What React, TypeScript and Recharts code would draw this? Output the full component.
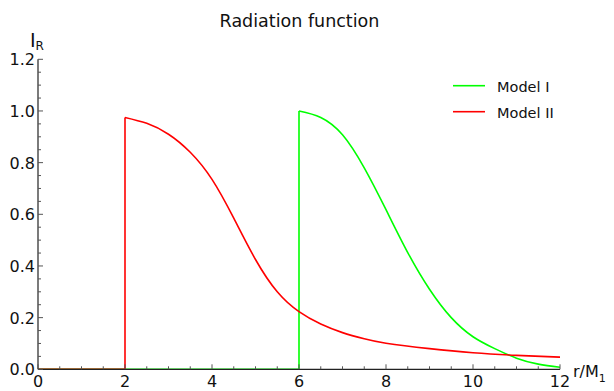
import React from 'react';
import { LineChart, Line, XAxis, YAxis } from 'recharts';

// Model I (green)
const modelIBaseR = [0, 6, 6];
const modelIBaseI = [0, 0, 1.0];
const modelIR = [6, 6.5, 7, 7.5, 8, 8.5, 9, 9.5, 10, 10.5, 11, 11.5, 12];
const modelII_ = [1.0, 0.975, 0.908, 0.78, 0.618, 0.452, 0.31, 0.2, 0.126, 0.08, 0.043, 0.02, 0.008];

// Model II (red)
const modelIIBaseR = [0, 2, 2];
const modelIIBaseI = [0, 0, 0.975];
const modelIIR = [2, 2.5, 3, 3.5, 4, 4.5, 5, 5.5, 6, 6.5, 7, 7.5, 8, 9, 10, 11, 12];
const modelIIV = [0.975, 0.952, 0.91, 0.84, 0.735, 0.585, 0.425, 0.3, 0.223, 0.175, 0.142, 0.118, 0.101, 0.08, 0.064, 0.054, 0.047];

const xTicks = [0, 0.5, 1, 1.5, 2, 2.5, 3, 3.5, 4, 4.5, 5, 5.5, 6, 6.5, 7, 7.5, 8, 8.5, 9, 9.5, 10, 10.5, 11, 11.5, 12];
const xLabels = [0, 2, 4, 6, 8, 10, 12];
const yTicks = [0, 0.05, 0.1, 0.15, 0.2, 0.25, 0.3, 0.35, 0.4, 0.45, 0.5, 0.55, 0.6, 0.65, 0.7, 0.75, 0.8, 0.85, 0.9, 0.95, 1.0, 1.05, 1.1, 1.15, 1.2];
const yLabels = [0, 0.2, 0.4, 0.6, 0.8, 1.0, 1.2];

const toRows = (rs: number[], vs: number[]) => rs.map((r, i) => ({ r, v: vs[i] }));

const FONT = 'DejaVu Sans';
const TICK_COLOR = '#555';
const AXIS_COLOR = '#222';

const isLabel = (list: number[], v: number) => list.some((l) => Math.abs(l - v) < 1e-6);

const XTick = (props: any) => {
  const { x, y, payload } = props;
  const v = payload.value;
  const major = isLabel(xLabels, v);
  return (
    <g>
      <line x1={x} x2={x} y1={y} y2={y - (major ? 5 : 3)} stroke={TICK_COLOR} strokeWidth={1} />
      {major && (
        <text x={x} y={y + 18} textAnchor="middle" fontSize={16} fontFamily={FONT} fill="#111">
          {String(v)}
        </text>
      )}
    </g>
  );
};

const YTick = (props: any) => {
  const { x, y, payload } = props;
  const v = payload.value;
  const major = isLabel(yLabels, v);
  return (
    <g>
      <line x1={x} x2={x + (major ? 5 : 3)} y1={y} y2={y} stroke={TICK_COLOR} strokeWidth={1} />
      {major && (
        <text x={x - 3} y={y + 6} textAnchor="end" fontSize={16} fontFamily={FONT} fill="#111">
          {v.toFixed(1)}
        </text>
      )}
    </g>
  );
};

export default function App() {
  const green = '#00ff00';
  const red = '#ff0000';
  return (
    <div style={{ position: 'absolute', left: 0, top: 0, width: 614, height: 391, background: '#fff' }}>
      <LineChart width={614} height={391} margin={{ top: 59.3, right: 54, bottom: 0, left: 0 }}>
        <XAxis
          type="number"
          dataKey="r"
          domain={[0, 12]}
          ticks={xTicks}
          interval={0}
          allowDataOverflow
          height={21.7}
          tickSize={0}
          tickMargin={0}
          tickLine={false}
          axisLine={{ stroke: AXIS_COLOR, strokeWidth: 1.2 }}
          tick={<XTick />}
        />
        <YAxis
          type="number"
          dataKey="v"
          domain={[0, 1.2]}
          ticks={yTicks}
          interval={0}
          allowDataOverflow
          width={38}
          tickSize={0}
          tickMargin={0}
          tickLine={false}
          axisLine={{ stroke: AXIS_COLOR, strokeWidth: 1.2 }}
          tick={<YTick />}
        />
        <Line data={toRows(modelIBaseR, modelIBaseI)} dataKey="v" type="linear" stroke={green} strokeWidth={1.6} dot={false} isAnimationActive={false} />
        <Line data={toRows(modelIR, modelII_)} dataKey="v" type="natural" stroke={green} strokeWidth={1.6} dot={false} isAnimationActive={false} />
        <Line data={toRows(modelIIBaseR, modelIIBaseI)} dataKey="v" type="linear" stroke={red} strokeWidth={1.6} dot={false} isAnimationActive={false} />
        <Line data={toRows(modelIIR, modelIIV)} dataKey="v" type="natural" stroke={red} strokeWidth={1.6} dot={false} isAnimationActive={false} />
      </LineChart>
      <svg width={614} height={391} style={{ position: 'absolute', left: 0, top: 0, pointerEvents: 'none' }}>
        <text x={299.5} y={26.5} textAnchor="middle" fontSize={17.5} fontFamily={FONT} fill="#111">
          Radiation function
        </text>
        <text x={30} y={47} fontFamily={FONT} fill="#111">
          <tspan fontSize={19}>I</tspan>
          <tspan fontSize={12} dy={3}>R</tspan>
        </text>
        <text x={573} y={377} fontFamily={FONT} fill="#111">
          <tspan fontSize={16}>r/M</tspan>
          <tspan fontSize={11} dy={5}>1</tspan>
        </text>
        <line x1={453} x2={485} y1={85.7} y2={85.7} stroke={green} strokeWidth={1.6} />
        <text x={497} y={92} fontSize={14.5} fontFamily={FONT} fill="#111">Model I</text>
        <line x1={453} x2={485} y1={111.7} y2={111.7} stroke={red} strokeWidth={1.6} />
        <text x={497} y={118} fontSize={14.5} fontFamily={FONT} fill="#111">Model II</text>
      </svg>
    </div>
  );
}
